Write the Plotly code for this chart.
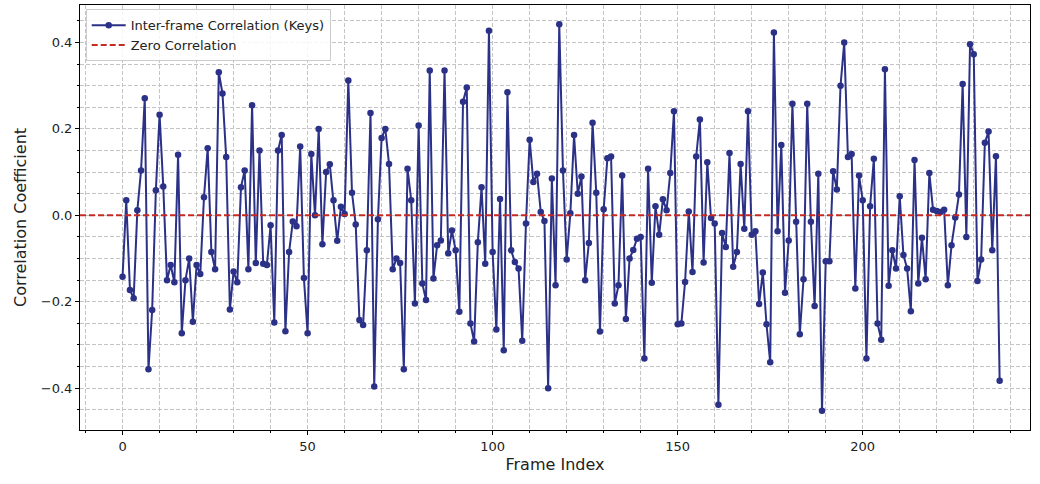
import plotly.graph_objects as go

# Inter-frame correlation of key vectors, one value per frame
frame_index = list(range(238))
correlation = [
    -0.142, 0.035, -0.173, -0.192, 0.012, 0.104, 0.271, -0.356, -0.219, 0.058,
    0.233, 0.067, -0.150, -0.115, -0.155, 0.140, -0.273, -0.150, -0.100, -0.246,
    -0.115, -0.136, 0.042, 0.155, -0.085, -0.125, 0.331, 0.282, 0.135, -0.218,
    -0.130, -0.155, 0.065, 0.104, -0.125, 0.255, -0.110, 0.150, -0.112, -0.115,
    -0.023, -0.248, 0.150, 0.186, -0.268, -0.085, -0.014, -0.025, 0.159, -0.145,
    -0.273, 0.142, 0.000, 0.200, -0.067, 0.100, 0.118, 0.035, -0.059, 0.020,
    0.003, 0.312, 0.052, -0.021, -0.242, -0.254, -0.081, 0.237, -0.396, -0.009,
    0.179, 0.200, 0.119, -0.125, -0.100, -0.110, -0.356, 0.108, 0.035, -0.204,
    0.208, -0.158, -0.196, 0.335, -0.146, -0.069, -0.058, 0.335, -0.088, -0.035,
    -0.081, -0.223, 0.263, 0.296, -0.250, -0.292, -0.062, 0.065, -0.112, 0.427,
    -0.085, -0.264, 0.038, -0.312, 0.285, -0.081, -0.108, -0.123, -0.290, -0.019,
    0.175, 0.077, 0.096, 0.008, -0.013, -0.400, 0.085, -0.162, 0.442, 0.104,
    -0.102, 0.005, 0.186, 0.050, 0.090, -0.150, -0.064, 0.214, 0.052, -0.269,
    0.014, 0.132, 0.136, -0.204, -0.162, 0.092, -0.240, -0.100, -0.080, -0.054,
    -0.050, -0.331, 0.108, -0.156, 0.021, -0.045, 0.037, 0.012, 0.098, 0.241,
    -0.252, -0.250, -0.154, 0.009, -0.131, 0.136, 0.222, -0.109, 0.123, -0.006,
    -0.019, -0.438, -0.041, -0.073, 0.144, -0.119, -0.085, 0.119, -0.031, 0.241,
    -0.045, -0.037, -0.205, -0.132, -0.252, -0.340, 0.423, -0.037, 0.163, -0.179,
    -0.058, 0.258, -0.015, -0.275, -0.148, 0.258, -0.015, -0.210, 0.096, -0.452,
    -0.106, -0.106, 0.102, 0.060, 0.300, 0.400, 0.135, 0.142, -0.169, 0.092,
    0.035, -0.331, 0.021, 0.131, -0.250, -0.288, 0.338, -0.163, -0.081, -0.123,
    0.044, -0.092, -0.123, -0.222, 0.128, -0.158, -0.052, -0.148, 0.098, 0.013,
    0.010, 0.008, 0.013, -0.162, -0.069, -0.005, 0.048, 0.304, -0.050, 0.396,
    0.373, -0.152, -0.102, 0.168, 0.194, -0.081, 0.137, -0.383,
]

y_tick_values = [-0.4, -0.2, 0.0, 0.2, 0.4]
y_tick_labels = ["\u22120.4", "\u22120.2", "0.0", "0.2", "0.4"]
x_tick_values = [0, 50, 100, 150, 200]
x_range = [-11.5, 245.2]

LINE_COLOR = "#2b3187"
ZERO_COLOR = "#c62a22"
GRID_COLOR = "#c4c4c4"
FONT = "DejaVu Sans, Verdana, sans-serif"

y_lo, y_hi = min(correlation), max(correlation)
y_pad = 0.05 * (y_hi - y_lo)

fig = go.Figure()

fig.add_trace(go.Scatter(
    x=frame_index,
    y=correlation,
    mode="lines+markers",
    name="Inter-frame Correlation (Keys)",
    line=dict(color=LINE_COLOR, width=2),
    marker=dict(color=LINE_COLOR, size=6.5, symbol="circle"),
))

fig.add_trace(go.Scatter(
    x=x_range,
    y=[0, 0],
    mode="lines",
    name="Zero Correlation",
    line=dict(color=ZERO_COLOR, width=2, dash="6px,3px"),
))

axis_common = dict(
    showline=True,
    linecolor="black",
    linewidth=1,
    mirror=True,
    ticks="outside",
    ticklen=4,
    tickwidth=1,
    tickcolor="black",
    showgrid=True,
    gridcolor=GRID_COLOR,
    gridwidth=1,
    griddash="4px,2px",
    zeroline=False,
    tickfont=dict(family=FONT, size=13, color="#222"),
)

fig.update_xaxes(
    **axis_common,
    range=x_range,
    tickvals=x_tick_values,
    title=dict(text="Frame Index", font=dict(family=FONT, size=16, color="#222"), standoff=6),
    minor=dict(dtick=10, tick0=0, ticks="outside", ticklen=2, tickcolor="black",
               showgrid=True, gridcolor=GRID_COLOR, griddash="4px,2px", gridwidth=1),
)

fig.update_yaxes(
    **axis_common,
    range=[y_lo - y_pad, y_hi + y_pad],
    tickvals=y_tick_values,
    ticktext=y_tick_labels,
    title=dict(text="Correlation Coefficient", font=dict(family=FONT, size=16, color="#222"), standoff=10),
    minor=dict(dtick=0.05, tick0=0, ticks="outside", ticklen=2, tickcolor="black",
               showgrid=True, gridcolor=GRID_COLOR, griddash="4px,2px", gridwidth=1),
)

fig.update_layout(
    width=1040,
    height=484,
    margin=dict(l=80, r=10, t=5, b=54, autoexpand=False),
    paper_bgcolor="white",
    plot_bgcolor="white",
    font=dict(family=FONT, size=13, color="#222"),
    showlegend=True,
    legend=dict(
        x=0.006, y=0.99, xanchor="left", yanchor="top",
        bgcolor="rgba(255,255,255,0.85)",
        bordercolor="#cccccc",
        borderwidth=1,
        font=dict(family=FONT, size=13, color="#222"),
        itemwidth=34,
        tracegroupgap=0,
    ),
)

fig.write_html("out.html")
